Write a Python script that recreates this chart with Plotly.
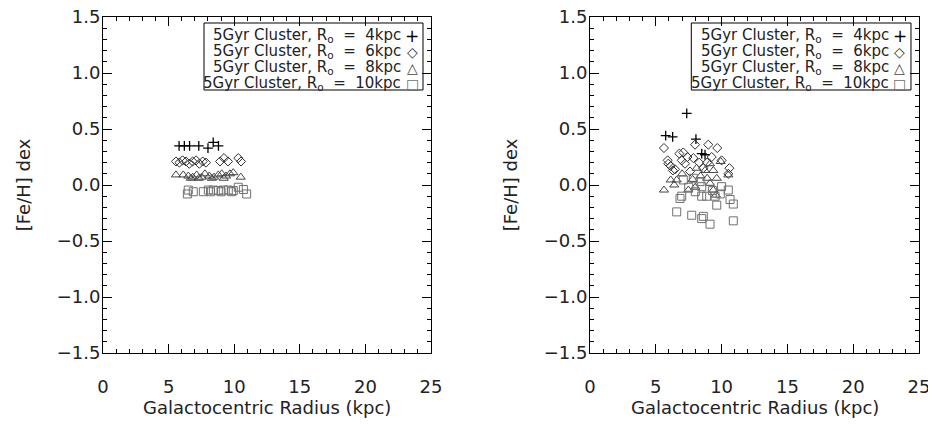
import plotly.graph_objects as go

# ---------------- data ----------------
# Left panel
L_r4_x = [5.8, 6.2, 6.6, 7.3, 8.0, 8.4, 8.8]
L_r4_y = [0.35, 0.35, 0.35, 0.35, 0.33, 0.38, 0.35]

L_r6_x = [5.56, 5.82, 6.07, 6.33, 6.58, 6.83, 7.09, 7.34, 7.6, 7.85, 8.92, 9.22, 9.53, 10.31, 10.52]
L_r6_y = [0.21, 0.20, 0.22, 0.21, 0.19, 0.21, 0.22, 0.19, 0.21, 0.20, 0.21, 0.24, 0.21, 0.24, 0.21]

L_r8_x = [5.56, 6.12, 6.5, 6.84, 7.14, 7.52, 7.77, 8.1, 8.46, 8.79, 9.05, 9.38, 9.68, 9.93, 10.5, 6.7, 7.3, 8.3, 9.2]
L_r8_y = [0.09, 0.09, 0.08, 0.07, 0.09, 0.07, 0.10, 0.08, 0.07, 0.09, 0.10, 0.08, 0.10, 0.11, 0.07, 0.06, 0.06, 0.06, 0.06]

L_r10_x = [6.5, 6.88, 6.43, 7.65, 8.03, 8.41, 8.79, 9.17, 9.55, 9.93, 10.31, 10.7, 10.95, 8.2, 9.0, 9.8]
L_r10_y = [-0.045, -0.06, -0.08, -0.06, -0.045, -0.045, -0.05, -0.045, -0.045, -0.05, -0.02, -0.04, -0.08, -0.06, -0.06, -0.06]

# Right panel
R_r4_x = [5.75, 6.28, 7.35, 8.05, 8.49, 8.74]
R_r4_y = [0.44, 0.43, 0.64, 0.41, 0.28, 0.27]

R_r6_x = [5.62, 6.79, 7.09, 7.98, 7.4, 6.97, 5.95, 6.13, 6.46, 7.85, 7.22, 8.99, 9.67, 9.25, 10.59, 10.51, 10.0,
          8.3, 8.6, 6.3, 7.6, 8.9, 5.9]
R_r6_y = [0.33, 0.28, 0.29, 0.36, 0.25, 0.22, 0.19, 0.17, 0.14, 0.24, 0.19, 0.36, 0.33, 0.25, 0.15, 0.10, 0.22,
          0.20, 0.15, 0.13, 0.12, 0.20, 0.22]

R_r8_x = [5.62, 6.13, 6.59, 7.47, 8.1, 9.12, 9.37, 9.93, 8.74, 9.63, 10.51, 9.57, 9.12, 9.37,
          7.0, 7.8, 8.4, 6.4, 8.0, 8.9]
R_r8_y = [-0.045, 0.045, 0.045, -0.045, 0.15, 0.19, 0.13, 0.21, 0.13, 0.06, 0.09, -0.09, 0.015, -0.045,
          0.10, 0.05, 0.08, 0.0, -0.02, 0.06]

R_r10_x = [6.59, 7.73, 8.49, 8.61, 9.12, 10.89, 10.89, 10.64, 8.87, 9.63, 10.51, 10.0, 6.97, 6.84, 7.09, 7.85,
           8.36, 8.49, 8.49, 7.5, 9.3, 9.9, 8.0, 9.5]
R_r10_y = [-0.24, -0.27, -0.30, -0.28, -0.35, -0.32, -0.17, -0.13, -0.10, -0.18, -0.045, -0.015, -0.10, -0.12,
           0.045, 0.06, 0.03, -0.015, -0.10, -0.02, -0.05, -0.08, -0.06, -0.10]

legend_labels = ["5Gyr Cluster, R<sub>o</sub>&nbsp; = &nbsp;4kpc",
                 "5Gyr Cluster, R<sub>o</sub>&nbsp; = &nbsp;6kpc",
                 "5Gyr Cluster, R<sub>o</sub>&nbsp; = &nbsp;8kpc",
                 "5Gyr Cluster, R<sub>o</sub>&nbsp; = &nbsp;10kpc"]
legend_glyphs = ["+", "\u25C7", "\u25B3", "\u25A1"]

x_ticks = [0, 5, 10, 15, 20, 25]
y_ticks = [-1.5, -1.0, -0.5, 0.0, 0.5, 1.0, 1.5]
x_title = "Galactocentric Radius (kpc)"
y_title = "[Fe/H] dex"

# ---------------- styles ----------------
FONT = "DejaVu Sans"
TXT = "#222"
styles = [
    dict(symbol="cross-thin", size=7, line=dict(width=1.3, color="#000000"), color="#000000"),
    dict(symbol="diamond-open", size=7, line=dict(width=1.0, color="#303030"), color="#303030"),
    dict(symbol="triangle-up-open", size=8, line=dict(width=1.0, color="#454545"), color="#454545"),
    dict(symbol="square-open", size=8, line=dict(width=1.0, color="#707070"), color="#707070"),
]
glyph_colors = ["#000000", "#303030", "#454545", "#707070"]

fig = go.Figure()
left = [(L_r4_x, L_r4_y), (L_r6_x, L_r6_y), (L_r8_x, L_r8_y), (L_r10_x, L_r10_y)]
right = [(R_r4_x, R_r4_y), (R_r6_x, R_r6_y), (R_r8_x, R_r8_y), (R_r10_x, R_r10_y)]
for (xs, ys), st in zip(left, styles):
    fig.add_trace(go.Scatter(x=xs, y=ys, mode="markers", marker=st, xaxis="x", yaxis="y", showlegend=False))
for (xs, ys), st in zip(right, styles):
    fig.add_trace(go.Scatter(x=xs, y=ys, mode="markers", marker=st, xaxis="x2", yaxis="y2", showlegend=False))

# the page body has an 8px margin, so the figure is placed 8px in from the top-left
OFF = 8
W, H = 936 - OFF, 426 - OFF
ybot, ytop = 1 - (353 - OFF) / H, 1 - (17 - OFF) / H
dom_l = [(103 - OFF) / W, (431 - OFF) / W]
dom_r = [(590 - OFF) / W, (919 - OFF) / W]

axis_common = dict(
    showline=True, linecolor="#000", linewidth=1, mirror="allticks",
    ticks="inside", ticklen=9, tickwidth=1, tickcolor="#000",
    showgrid=False, zeroline=False, automargin=False, ticklabeloverflow="allow",
    tickfont=dict(family=FONT, size=18, color=TXT),
    minor=dict(ticks="inside", ticklen=4, tickwidth=1, tickcolor="#000", showgrid=False),
)
xcommon = dict(axis_common, range=[0, 25], tickvals=x_ticks, minor=dict(axis_common["minor"], dtick=1),
               ticklabelstandoff=17)
ycommon = dict(axis_common, range=[-1.5, 1.5], tickvals=y_ticks, tickformat=".1f",
               ticklabelstandoff=-2,
               minor=dict(axis_common["minor"], dtick=0.1),
               title=dict(text=y_title, font=dict(family=FONT, size=18, color=TXT), standoff=21))

fig.update_layout(
    width=W, height=H, margin=dict(l=0, r=0, t=0, b=0),
    paper_bgcolor="white", plot_bgcolor="white",
    xaxis=dict(xcommon, domain=dom_l, anchor="y"),
    yaxis=dict(ycommon, domain=[ybot, ytop], anchor="x"),
    xaxis2=dict(xcommon, domain=dom_r, anchor="y2"),
    yaxis2=dict(ycommon, domain=[ybot, ytop], anchor="x2"),
)

ann = []
shapes = []
for xa, ya in [("x", "y"), ("x2", "y2")]:
    # x-axis title placed below tick labels
    ann.append(dict(xref=f"{xa} domain", yref="paper", x=0.5, y=1 - (407 - OFF) / H,
                    xanchor="center", yanchor="middle", showarrow=False, text=x_title,
                    font=dict(family=FONT, size=18, color=TXT)))
    # legend box + rows
    bx0 = (204 - 103) / 328
    bx1 = (423 - 103) / 328
    by1 = 1 - (23 - 17) / 336
    by0 = 1 - (90 - 17) / 336
    shapes.append(dict(type="rect", xref=f"{xa} domain", yref=f"{ya} domain",
                       x0=bx0, x1=bx1, y0=by0, y1=by1, line=dict(color="#000", width=1)))
    rows_px = [36, 52, 68, 84]
    for i, (lab, g) in enumerate(zip(legend_labels, legend_glyphs)):
        yy = 1 - (rows_px[i] - 17) / 336
        ann.append(dict(xref=f"{xa} domain", yref=f"{ya} domain", x=(403 - 103) / 328, y=yy,
                        xanchor="right", yanchor="middle", showarrow=False, text=lab,
                        font=dict(family=FONT, size=15, color=TXT)))
        ann.append(dict(xref=f"{xa} domain", yref=f"{ya} domain", x=(412 - 103) / 328, y=yy,
                        xanchor="center", yanchor="middle", showarrow=False, text=g,
                        font=dict(family="DejaVu Sans", size=14 if i else 17, color=glyph_colors[i])))
fig.update_layout(annotations=ann, shapes=shapes)

fig.write_html("out.html")
